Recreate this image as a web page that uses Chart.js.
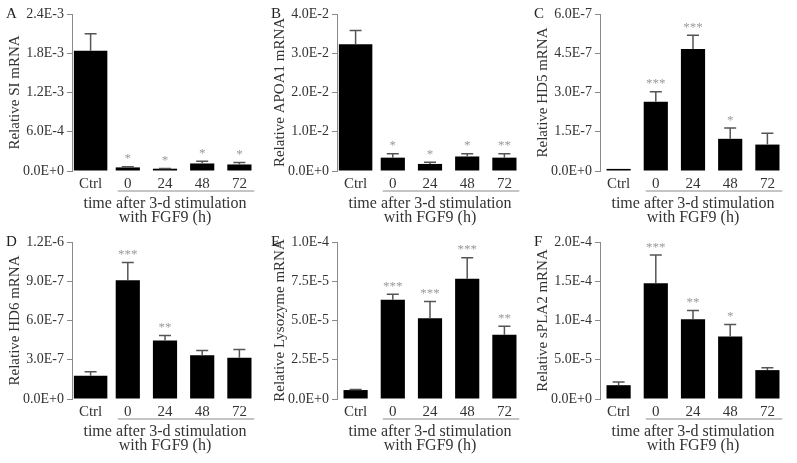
<!DOCTYPE html>
<html>
<head>
<meta charset="utf-8">
<script src="https://cdn.jsdelivr.net/npm/chart.js@4.4.1/dist/chart.umd.min.js"></script>
<style>
  body { margin: 0; background: #fff; width: 797px; height: 463px; position: relative; overflow: hidden; font-family: "Liberation Serif", serif; }
  .panel { position: absolute; width: 265px; height: 228px; }
  .probe { position: absolute; left: -999px; top: 0; font: 15px "Liberation Serif"; }
</style>
</head>
<body>
<span class="probe">Relative 0.0E+0 *</span>
<div class="panel" style="left:0;top:0"><canvas id="chartA"></canvas></div>
<div class="panel" style="left:265px;top:0"><canvas id="chartB"></canvas></div>
<div class="panel" style="left:528px;top:0"><canvas id="chartC"></canvas></div>
<div class="panel" style="left:0;top:228px"><canvas id="chartD"></canvas></div>
<div class="panel" style="left:265px;top:228px"><canvas id="chartE"></canvas></div>
<div class="panel" style="left:528px;top:228px"><canvas id="chartF"></canvas></div>
<script>
const categories = ['Ctrl', '0', '24', '48', '72'];
const xTitle = ['time after 3-d stimulation', 'with FGF9 (h)'];

// A - SI
const siMean = [1.84e-3, 5.5e-5, 3.5e-5, 1.15e-4, 1.0e-4];
const siErr = [2.6e-4, 1.0e-5, 5e-6, 3.5e-5, 3.0e-5];
const siStars = ['', '*', '*', '*', '*'];

// B - APOA1
const apoMean = [0.0323, 0.0034, 0.0018, 0.0037, 0.0034];
const apoErr = [0.0035, 0.0010, 0.0004, 0.0007, 0.0010];
const apoStars = ['', '*', '*', '*', '**'];

// C - HD5
const hd5Mean = [8e-9, 2.65e-7, 4.66e-7, 1.23e-7, 1.01e-7];
const hd5Err = [0, 0.38e-7, 0.53e-7, 0.41e-7, 0.43e-7];
const hd5Stars = ['', '***', '***', '*', ''];

// D - HD6
const hd6Mean = [1.78e-7, 9.08e-7, 4.47e-7, 3.35e-7, 3.15e-7];
const hd6Err = [0.30e-7, 1.35e-7, 0.38e-7, 0.35e-7, 0.63e-7];
const hd6Stars = ['', '***', '**', '', ''];

// E - Lysozyme
const lysMean = [5.7e-6, 6.32e-5, 5.14e-5, 7.66e-5, 4.10e-5];
const lysErr = [0.4e-6, 0.35e-5, 1.07e-5, 1.33e-5, 0.53e-5];
const lysStars = ['', '***', '***', '***', '**'];

// F - sPLA2
const splaMean = [1.76e-5, 1.473e-4, 1.017e-4, 7.95e-5, 3.68e-5];
const splaErr = [0.42e-5, 0.36e-4, 0.11e-4, 1.55e-5, 0.29e-5];
const splaStars = ['', '***', '**', '*', ''];

const panels = [
  { id: 'chartA', letter: 'A', yLabel: 'Relative SI mRNA', mean: siMean, err: siErr, stars: siStars, max: 2.4e-3, step: 6e-4, wideCtrl: true },
  { id: 'chartB', letter: 'B', yLabel: 'Relative APOA1 mRNA', mean: apoMean, err: apoErr, stars: apoStars, max: 0.04, step: 0.01, wideCtrl: true },
  { id: 'chartC', letter: 'C', yLabel: 'Relative HD5 mRNA', mean: hd5Mean, err: hd5Err, stars: hd5Stars, max: 6e-7, step: 1.5e-7, wideCtrl: false },
  { id: 'chartD', letter: 'D', yLabel: 'Relative HD6 mRNA', mean: hd6Mean, err: hd6Err, stars: hd6Stars, max: 1.2e-6, step: 3e-7, wideCtrl: true },
  { id: 'chartE', letter: 'E', yLabel: 'Relative Lysozyme mRNA', mean: lysMean, err: lysErr, stars: lysStars, max: 1e-4, step: 2.5e-5, wideCtrl: false },
  { id: 'chartF', letter: 'F', yLabel: 'Relative sPLA2 mRNA', mean: splaMean, err: splaErr, stars: splaStars, max: 2e-4, step: 5e-5, wideCtrl: false }
];

const serif = "'Liberation Serif'";
const textColor = '#333';
const axisColor = '#8a8a8a';
Chart.defaults.font.family = serif;

// format ticks like Excel 0.0E+0
function sci(v) {
  if (Math.abs(v) < 1e-15) return '0.0E+0';
  let e = Math.floor(Math.log10(Math.abs(v)));
  let m = Math.round(v / Math.pow(10, e) * 10) / 10;
  if (m >= 10) { m = m / 10; e += 1; }
  return m.toFixed(1) + 'E' + (e >= 0 ? '+' : '-') + Math.abs(e);
}

// error bars, asterisks, underline and panel letter
function makeExtras(p) {
  return {
    id: 'extras' + p.letter,
    afterDatasetsDraw(chart) {
      const ctx = chart.ctx;
      const x = chart.scales.x;
      const y = chart.scales.y;
      ctx.save();
      p.mean.forEach((m, i) => {
        const px = x.getPixelForValue(i);
        const yTop = y.getPixelForValue(m);
        const yErr = y.getPixelForValue(m + p.err[i]);
        if (p.err[i] > 0) {
          ctx.strokeStyle = '#555';
          ctx.lineWidth = 1.5;
          ctx.beginPath();
          ctx.moveTo(px, yTop);
          ctx.lineTo(px, yErr);
          ctx.moveTo(px - 6, yErr);
          ctx.lineTo(px + 6, yErr);
          ctx.stroke();
        }
        if (p.stars[i]) {
          ctx.fillStyle = '#9a9a9a';
          ctx.font = '13px ' + serif;
          ctx.textAlign = 'center';
          ctx.textBaseline = 'middle';
          ctx.fillText(p.stars[i], px, yErr - 8);
        }
      });
      const step = x.getPixelForValue(1) - x.getPixelForValue(0);
      const uy = chart.chartArea.bottom + 20;
      ctx.strokeStyle = axisColor;
      ctx.lineWidth = 1;
      ctx.beginPath();
      ctx.moveTo(x.getPixelForValue(1) - 0.27 * step, uy);
      ctx.lineTo(x.getPixelForValue(4) + 0.4 * step, uy);
      ctx.stroke();
      ctx.fillStyle = '#222';
      ctx.font = '15px ' + serif;
      ctx.textAlign = 'left';
      ctx.textBaseline = 'middle';
      ctx.fillText(p.letter, 6, chart.chartArea.top);
      ctx.restore();
    }
  };
}

function drawAll() {
  panels.forEach(p => {
    new Chart(document.getElementById(p.id), {
      type: 'bar',
      data: {
        labels: categories,
        datasets: [
          {
            data: p.mean.map((v, i) => i === 0 ? v : null),
            backgroundColor: '#000',
            barPercentage: p.wideCtrl ? 0.9 : 0.65,
            categoryPercentage: 1,
            grouped: false
          },
          {
            data: p.mean.map((v, i) => i === 0 ? null : v),
            backgroundColor: '#000',
            barPercentage: 0.65,
            categoryPercentage: 1,
            grouped: false
          }
        ]
      },
      options: {
        responsive: true,
        maintainAspectRatio: false,
        animation: false,
        layout: { padding: { top: 14, right: 7, left: 0, bottom: 0 } },
        plugins: { legend: { display: false }, tooltip: { enabled: false } },
        scales: {
          x: {
            offset: true,
            grid: { display: false, drawTicks: false },
            border: { display: false },
            ticks: { color: textColor, font: { family: serif, size: 15 }, padding: 4 },
            title: {
              display: true,
              text: xTitle,
              color: textColor,
              font: { family: serif, size: 16, lineHeight: 0.9 },
              padding: { top: 0, bottom: 3 }
            },
            afterFit(s) { s.height = 57; }
          },
          y: {
            min: 0,
            max: p.max,
            ticks: { stepSize: p.step, color: textColor, font: { family: serif, size: 14 }, padding: 3, callback: v => sci(v) },
            grid: { drawOnChartArea: false, tickLength: 5, color: axisColor },
            border: { color: axisColor },
            title: { display: true, text: p.yLabel, color: textColor, font: { family: serif, size: 15 }, padding: { top: 6, bottom: 0 } },
            afterFit(s) { s.width = 72; }
          }
        }
      },
      plugins: [makeExtras(p)]
    });
  });
}

document.fonts.load('15px "Liberation Serif"').then(drawAll, drawAll);
</script>
</body>
</html>
